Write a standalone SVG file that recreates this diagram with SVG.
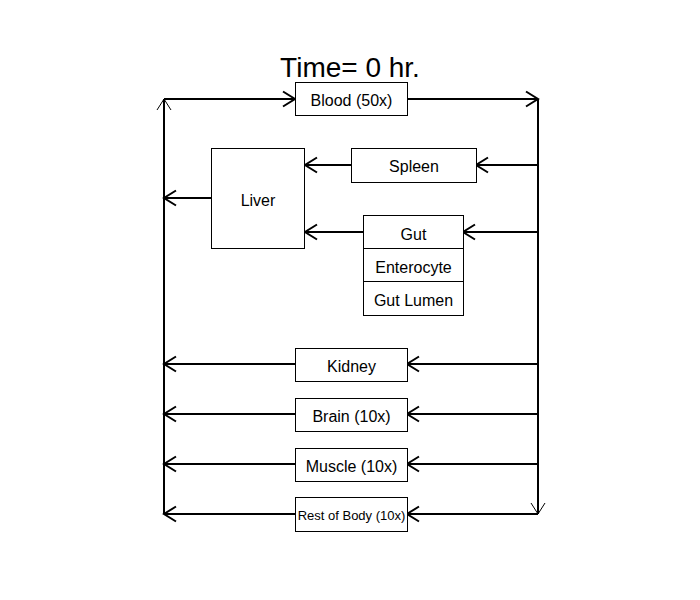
<svg xmlns="http://www.w3.org/2000/svg" width="700" height="600" viewBox="0 0 700 600">
<style>
.box{fill:#fff;stroke:#000;stroke-width:1}
.t{font-family:"Liberation Sans",Arial,sans-serif;font-size:16px;fill:#000;text-anchor:middle}
.ln{fill:none;stroke:#000;stroke-width:2}
.thin{fill:none;stroke:#000;stroke-width:1}
</style>
<defs>
<marker id="ah" viewBox="-14 -9 16 18" refX="0" refY="0" markerWidth="16" markerHeight="18" markerUnits="userSpaceOnUse" orient="auto">
<path d="M-12,-7.5 L0,0 L-12,7.5" fill="none" stroke="#000" stroke-width="2"/>
</marker>
</defs>
<rect width="700" height="600" fill="#fff"/>
<text x="350" y="77" font-family="Liberation Sans, Arial, sans-serif" font-size="28" text-anchor="middle">Time= 0 hr.</text>
<g id="connectors">
<path class="ln" d="M164,514 L164,99"/>
<path class="thin" d="M157,110 L164,99 L171,110"/>
<path class="ln" d="M538,99 L538,514"/>
<path class="thin" d="M531,503 L538,514 L545,503"/>
<path class="ln" d="M164,99 L295,99" marker-end="url(#ah)"/>
<path class="ln" d="M407,99 L538,99" marker-end="url(#ah)"/>
<path class="ln" d="M538,165 L476,165" marker-end="url(#ah)"/>
<path class="ln" d="M351,165 L305,165" marker-end="url(#ah)"/>
<path class="ln" d="M211,198 L164,198" marker-end="url(#ah)"/>
<path class="ln" d="M538,232 L463,232" marker-end="url(#ah)"/>
<path class="ln" d="M363,232 L305,232" marker-end="url(#ah)"/>
<path class="ln" d="M538,364 L407,364" marker-end="url(#ah)"/>
<path class="ln" d="M295,364 L164,364" marker-end="url(#ah)"/>
<path class="ln" d="M538,414 L407,414" marker-end="url(#ah)"/>
<path class="ln" d="M295,414 L164,414" marker-end="url(#ah)"/>
<path class="ln" d="M538,464 L407,464" marker-end="url(#ah)"/>
<path class="ln" d="M295,464 L164,464" marker-end="url(#ah)"/>
<path class="ln" d="M538,514 L407,514" marker-end="url(#ah)"/>
<path class="ln" d="M295,514 L164,514" marker-end="url(#ah)"/>
</g>
<g id="blood"><rect class="box" x="295.5" y="82.5" width="112" height="33"/><text class="t" x="351.5" y="106">Blood (50x)</text></g>
<g id="spleen"><rect class="box" x="351.5" y="148.5" width="125" height="34"/><text class="t" x="414" y="172">Spleen</text></g>
<g id="liver"><rect class="box" x="211.5" y="148.5" width="93" height="100"/><text class="t" x="258" y="206">Liver</text></g>
<g id="gut"><rect class="box" x="363.5" y="215.5" width="100" height="100"/>
<line class="thin" x1="363.5" y1="248.5" x2="463.5" y2="248.5"/>
<line class="thin" x1="363.5" y1="281.5" x2="463.5" y2="281.5"/>
<text class="t" x="413.5" y="239.5">Gut</text>
<text class="t" x="413.5" y="272.5">Enterocyte</text>
<text class="t" x="413.5" y="306">Gut Lumen</text></g>
<g id="kidney"><rect class="box" x="295.5" y="348.5" width="112" height="33"/><text class="t" x="351.5" y="372">Kidney</text></g>
<g id="brain"><rect class="box" x="295.5" y="398.5" width="112" height="33"/><text class="t" x="351.5" y="422">Brain (10x)</text></g>
<g id="muscle"><rect class="box" x="295.5" y="448.5" width="112" height="33"/><text class="t" x="351.5" y="472">Muscle (10x)</text></g>
<g id="rest"><rect class="box" x="295.5" y="497.5" width="112" height="34"/><text class="t" x="351.5" y="520" style="font-size:13px">Rest of Body (10x)</text></g>
</svg>
